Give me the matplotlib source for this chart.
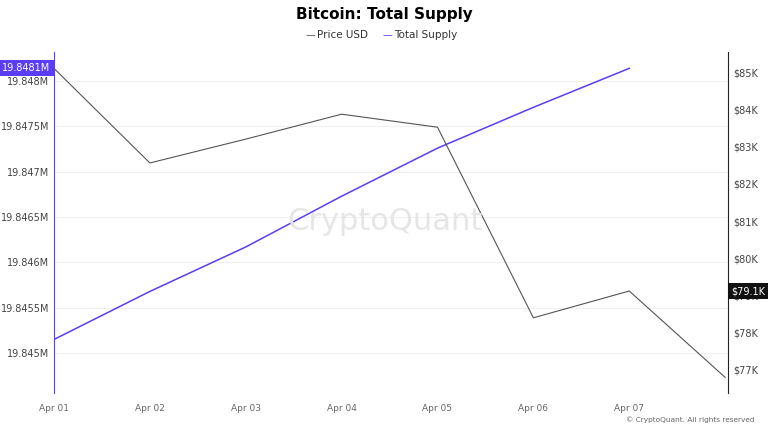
import matplotlib.pyplot as plt
from matplotlib.ticker import FuncFormatter

dates = ["Apr 01", "Apr 02", "Apr 03", "Apr 04", "Apr 05", "Apr 06", "Apr 07"]
supply_m = [19.84515, 19.84568, 19.84617, 19.84673, 19.84726, 19.84771, 19.84814]
price_k = [85.1, 82.56, 83.2, 83.87, 83.52, 78.4, 79.12, 76.8]

fig = plt.figure(figsize=(7.69, 4.25), dpi=100)
ax = fig.add_axes([0.0702, 0.0753, 0.8765, 0.8023])
ax2 = ax.twinx()

ax.plot(range(len(supply_m)), supply_m, color="#5b3df5", lw=1.1, zorder=3)
ax2.plot(range(len(price_k)), price_k, color="#555555", lw=0.8)

ax.set_xlim(0, 7.03)
ax.set_ylim(19.84456, 19.84832)
ax2.set_ylim(76.38, 85.54)
ax.set_xticks(range(len(dates)))
ax.set_xticklabels(dates)
ax.set_yticks([19.845 + 0.0005 * i for i in range(7)])
ax.yaxis.set_major_formatter(FuncFormatter(lambda v, p: f"{v:.4f}".rstrip("0").rstrip(".") + "M"))
ax2.set_yticks(range(77, 86))
ax2.yaxis.set_major_formatter(FuncFormatter(lambda v, p: f"${v:.0f}K"))
ax.grid(axis="y", color="#f0f0f0", lw=0.8)

for a in (ax, ax2):
    a.tick_params(length=0, labelsize=7, colors="#444444")
    for s in a.spines.values():
        s.set_visible(False)
ax.tick_params(axis="x", labelsize=6.5, colors="#666666", pad=8)
ax.spines["left"].set_visible(True)
ax.spines["left"].set_color("#5b3df5")
ax2.spines["right"].set_visible(True)
ax2.spines["right"].set_color("#222222")

ax.text(-0.005, supply_m[-1], f"{supply_m[-1]:.4f}M", transform=ax.get_yaxis_transform(),
        ha="right", va="center", color="white", fontsize=7,
        bbox=dict(boxstyle="square,pad=0.3", fc="#5b3df5", ec="none"))
ax2.text(1.005, price_k[6], "$79.1K", transform=ax2.get_yaxis_transform(),
         ha="left", va="center", color="white", fontsize=7,
         bbox=dict(boxstyle="square,pad=0.3", fc="#111111", ec="none"))

fig.text(0.5, 0.965, "Bitcoin: Total Supply", ha="center", va="center", fontsize=11, fontweight="bold")
fig.text(0.41, 0.918, "—", color="#555555", ha="right", va="center", fontsize=7)
fig.text(0.412, 0.918, "Price USD", ha="left", va="center", fontsize=7.5, color="#333333")
fig.text(0.51, 0.918, "—", color="#5b3df5", ha="right", va="center", fontsize=7)
fig.text(0.512, 0.918, "Total Supply", ha="left", va="center", fontsize=7.5, color="#333333")
fig.text(0.5, 0.48, "CryptoQuant", ha="center", va="center", fontsize=22, color="#e6e6e6", zorder=0)
fig.text(0.981, 0.005, "© CryptoQuant. All rights reserved", ha="right", va="bottom", fontsize=5.3, color="#666666")

fig.savefig("out.png")
